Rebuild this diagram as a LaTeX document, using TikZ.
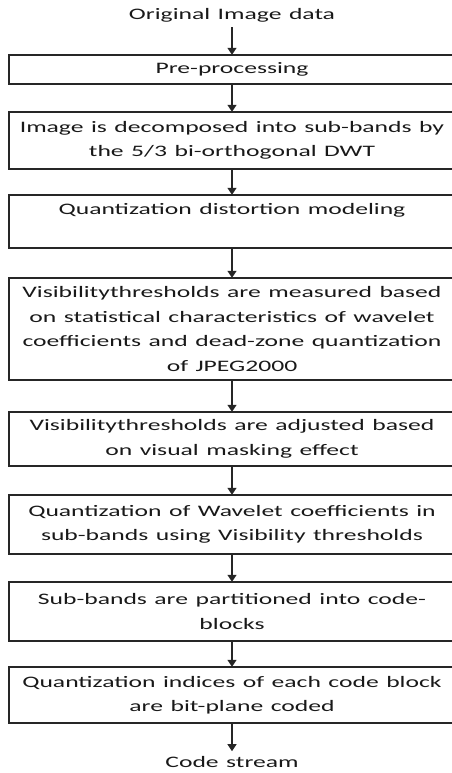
\documentclass[tikz,border=0pt]{standalone}
\usepackage{fontspec}
\setmainfont{Carlito}[FakeStretch=1.6,WordSpace=1.3]
\usetikzlibrary{arrows.meta}
\begin{document}
\begin{tikzpicture}[x=1pt,y=-1pt,
  stepbox/.style={minimum width=446pt, inner sep=0pt,
    align=center, font=\fontsize{16}{24.5}\selectfont, text=black!90},
  frame/.style={draw=black!85, line width=1.5pt},
  lbl/.style={font=\fontsize{16}{24.5}\selectfont, inner sep=0pt, text=black!90},
  arr/.style={draw=black!85, line width=1.4pt, -{Triangle[length=7pt,width=9pt]}}]
\useasboundingbox (0,0) rectangle (452,773);
\clip (0,0) rectangle (452,773);
\node[lbl] (orig) at (232,15) {Original Image data};
\node[stepbox, minimum height=29pt] (b1) at (232,69.5) {Pre-processing};
\node[stepbox, minimum height=57pt] (b2) at (232,140.5) {Image is decomposed into sub-bands by\\the 5/3 bi-orthogonal DWT};
\node[stepbox, minimum height=53pt] (b3) at (232,221.5) {Quantization distortion modeling\\\mbox{}};
\node[stepbox, minimum height=102pt] (b4) at (232,329) {Visibilitythresholds are measured based\\on statistical characteristics of wavelet\\coefficients and dead-zone quantization\\of JPEG2000};
\node[stepbox, minimum height=54pt] (b5) at (232,439) {Visibilitythresholds are adjusted based\\on visual masking effect};
\node[stepbox, minimum height=59pt] (b6) at (232,524.5) {Quantization of Wavelet coefficients in\\sub-bands using Visibility thresholds};
\node[stepbox, minimum height=59pt] (b7) at (232,611.5) {Sub-bands are partitioned into code-\\blocks};
\node[stepbox, minimum height=56pt] (b8) at (232,695) {Quantization indices of each code block\\are bit-plane coded};
\node[lbl] (cs) at (232,762) {Code stream};
\foreach \b in {b1,b2,b3,b4,b5,b6,b7,b8}
  \draw[frame] (\b.north west) rectangle ([xshift=20pt]\b.south east);
\draw[arr] ([yshift=-5pt]orig.south) -- (b1.north);
\draw[arr] (b1.south) -- (b2.north);
\draw[arr] (b2.south) -- (b3.north);
\draw[arr] (b3.south) -- (b4.north);
\draw[arr] (b4.south) -- (b5.north);
\draw[arr] (b5.south) -- (b6.north);
\draw[arr] (b6.south) -- (b7.north);
\draw[arr] (b7.south) -- (b8.north);
\draw[arr] (b8.south) -- ([yshift=5pt]cs.north);
\end{tikzpicture}
\end{document}
